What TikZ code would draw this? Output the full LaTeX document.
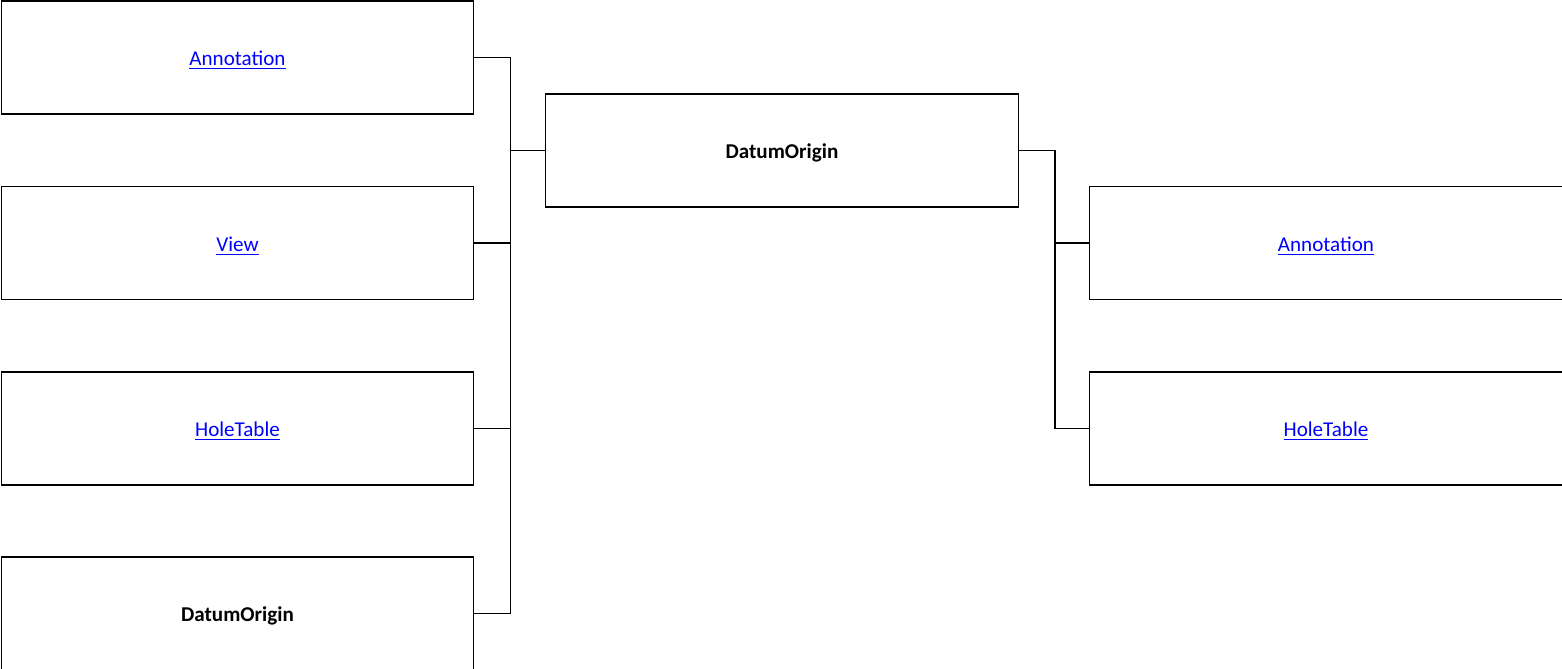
\documentclass[tikz,border=0pt]{standalone}
\usepackage{fontspec}
\setmainfont{Carlito}
\usepackage{tikz}
\usetikzlibrary{positioning}

\definecolor{linkblue}{RGB}{0,0,255}
\newcommand{\lnk}[1]{\textcolor{linkblue}{\underline{#1}}}

\begin{document}
\begin{tikzpicture}[
    x=0.02cm, y=-0.02cm,
    entity/.style={
        rectangle, draw, line width=0.6pt,
        minimum width=9.46cm, minimum height=2.26cm,
        text height=12pt, text depth=2.5pt,
        font=\fontsize{12}{14}\selectfont, align=center
    },
    root/.style={entity, font=\fontsize{12}{14}\selectfont\bfseries},
    conn/.style={line width=0.9pt},
]
\useasboundingbox (0,0) rectangle (1562,669);

% Center
\node[root] (datum) at (782,150.5) {DatumOrigin};

% Left column
\node[entity] (annL) at (237.5,57.5) {\lnk{Annotation}};
\node[entity] (viewL) at (237.5,243) {\lnk{View}};
\node[entity] (holeL) at (237.5,428.5) {\lnk{HoleTable}};
\node[root] (datumL) at (237.5,613.5) {DatumOrigin};

% Right column
\node[entity] (annR) at (1326,243) {\lnk{Annotation}};
\node[entity] (holeR) at (1326,428.5) {\lnk{HoleTable}};

% Left connectors
\draw[conn] (annL.east) -- ++(36,0) |- (datum.west);
\draw[conn] (viewL.east) -- ++(36,0) |- (datum.west);
\draw[conn] (holeL.east) -- ++(36,0) |- (datum.west);
\draw[conn] (datumL.east) -- ++(36,0) |- (datum.west);

% Right connectors
\draw[conn] (datum.east) -- ++(36,0) |- (annR.west);
\draw[conn] (datum.east) -- ++(36,0) |- (holeR.west);

\end{tikzpicture}
\end{document}
